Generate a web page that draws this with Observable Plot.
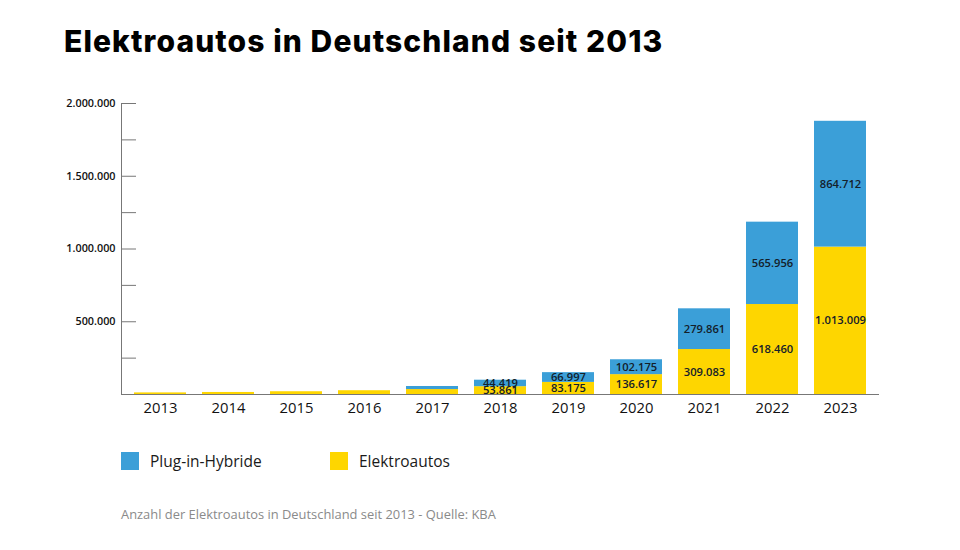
<!DOCTYPE html>
<html>
<head>
<meta charset="utf-8">
<script src="https://cdn.jsdelivr.net/npm/d3@7"></script>
<script src="https://cdn.jsdelivr.net/npm/@observablehq/plot@0.6"></script>
<style>
  html, body { margin: 0; padding: 0; background: #fff; }
  body { width: 960px; height: 550px; overflow: hidden; font-family: "Open Sans", sans-serif; color: #111; }
  #title { height: 80px; box-sizing: border-box; padding: 23px 0 0 64px; font-family: Inter, sans-serif; font-weight: 800; font-size: 30px; letter-spacing: 1.1px; color: #000; line-height: 36px; white-space: nowrap; }
  #chart { height: 350px; }
  #chart svg { display: block; }
  #legend { position: relative; height: 70px; }
  .sw { position: absolute; top: 22px; width: 18px; height: 18px; }
  .lab { position: absolute; top: 20px; font-size: 15.5px; line-height: 22px; color: #1a1a1a; }
  #caption { padding-left: 121px; padding-top: 5px; font-size: 12.9px; color: #8a8a8a; }
</style>
</head>
<body>
<div id="title">Elektroautos in Deutschland seit 2013</div>
<div id="chart"></div>
<div id="legend"></div>
<div id="caption">Anzahl der Elektroautos in Deutschland seit 2013 - Quelle: KBA</div>
<script>
const years = ["2013","2014","2015","2016","2017","2018","2019","2020","2021","2022","2023"];
const elektroautos = [11000, 14000, 19000, 26000, 34022, 53861, 83175, 136617, 309083, 618460, 1013009];
const plugInHybride = [null, null, null, null, 20975, 44419, 66997, 102175, 279861, 565956, 864712];
const seriesNames = ["Plug-in-Hybride", "Elektroautos"];
const seriesColors = ["#3b9fd8", "#fed600"];
const yTicks = [250000, 500000, 750000, 1000000, 1250000, 1500000, 1750000, 2000000];
const labelFromYear = 2018;

const de = d3.formatLocale({decimal: ",", thousands: ".", grouping: [3], currency: ["", "€"]});
const fmt = de.format(",d");

const rows = [];
years.forEach((y, i) => {
  rows.push({year: y, type: "Elektroautos", value: elektroautos[i]});
  if (plugInHybride[i] != null) rows.push({year: y, type: "Plug-in-Hybride", value: plugInHybride[i]});
});

const stackOpts = {x: "year", y: "value", z: "type", order: ["Elektroautos", "Plug-in-Hybride"]};

const chart = Plot.plot({
  width: 960,
  height: 350,
  marginLeft: 121,
  marginRight: 81,
  marginTop: 23,
  marginBottom: 36,
  style: {fontFamily: "'Open Sans', sans-serif", color: "#111", background: "transparent"},
  x: {domain: years, paddingInner: 0.23, paddingOuter: 0.15, label: null},
  y: {domain: [0, 2000000], label: null},
  color: {domain: seriesNames, range: seriesColors},
  marks: [
    Plot.barY(rows, Plot.stackY({...stackOpts, fill: "type"})),
    Plot.text(rows, Plot.stackY({...stackOpts,
      text: d => (+d.year >= labelFromYear ? fmt(d.value) : ""),
      fill: "#14202a", fontSize: 11.2, fontWeight: 600})),
    Plot.axisY({ticks: yTicks, tickSize: 15, dx: 15, tickPadding: 6, stroke: "#777",
      tickFormat: d => (d % 500000 === 0 ? fmt(d) : ""), fontSize: 10.8, fontWeight: 600, fill: "#111", label: null}),
    Plot.axisX({tickSize: 0, tickPadding: 8, fontSize: 14.8, fill: "#111", label: null}),
    Plot.frame({anchor: "left", stroke: "#777"}),
    Plot.ruleY([0], {stroke: "#777"})
  ]
});
document.getElementById("chart").appendChild(chart);

const legend = document.getElementById("legend");
const legendX = [[121, 150], [330, 359]];
seriesNames.forEach((name, i) => {
  const sw = document.createElement("div");
  sw.className = "sw";
  sw.style.left = legendX[i][0] + "px";
  sw.style.background = seriesColors[i];
  legend.appendChild(sw);
  const lab = document.createElement("div");
  lab.className = "lab";
  lab.style.left = legendX[i][1] + "px";
  lab.textContent = name;
  legend.appendChild(lab);
});
</script>
</body>
</html>
